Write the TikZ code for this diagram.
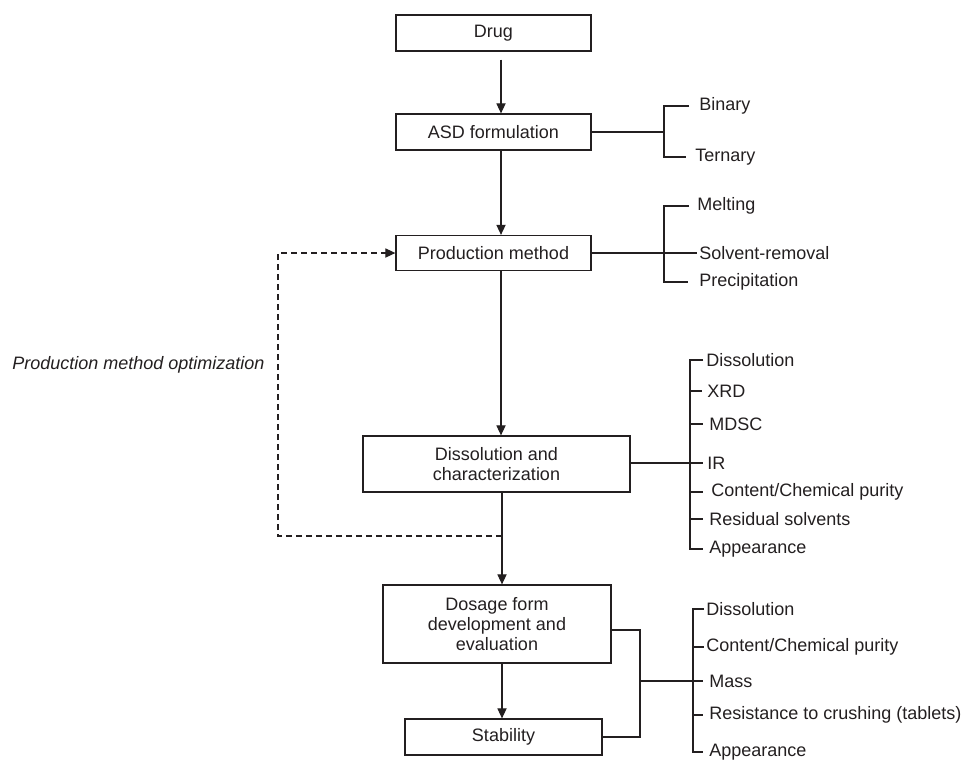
\documentclass[tikz,border=0pt]{standalone}
\usepackage{fontspec}
\setmainfont{Liberation Sans}
\usetikzlibrary{arrows.meta}
\definecolor{ink}{HTML}{231F20}
\begin{document}
\begin{tikzpicture}[x=0.5pt,y=-0.5pt,
  every node/.style={text=ink,font=\fontsize{9}{10.2}\selectfont},
  box/.style={draw=ink,line width=0.65pt,inner sep=0pt,align=center},
  item/.style={anchor=west,inner sep=0pt},
  ln/.style={draw=ink,line width=0.55pt},
  arr/.style={ln,-{Triangle[length=5pt,width=4.6pt]}},
  dsh/.style={ln,dash pattern=on 3pt off 2pt}]
\useasboundingbox (0,0) rectangle (965,762);
% main boxes
\node[box,minimum width=97.5pt,minimum height=18pt] (drug) at (493.5,33) {Drug};
\node[box,minimum width=97.5pt,minimum height=18pt] (asd) at (493.5,132) {ASD formulation};
\node[box,minimum width=97.5pt,minimum height=17.5pt] (prod) at (493.5,253) {Production method};
\node[box,minimum width=133.5pt,minimum height=28pt] (diss) at (496.5,464) {Dissolution and\\characterization};
\node[box,minimum width=114pt,minimum height=39pt] (dos) at (497,624) {Dosage form\\development and\\evaluation};
\node[box,minimum width=98.5pt,minimum height=18pt] (stab) at (503.5,737) {Stability};
% vertical axis coordinates
\coordinate (ax) at (501,0);
\coordinate (bx) at (502,0);
% arrows
\draw[arr] ([yshift=-4pt]drug.south -| ax) -- (asd.north -| ax);
\draw[arr] (asd.south -| ax) -- (prod.north -| ax);
\draw[arr] (prod.south -| ax) -- (diss.north -| ax);
\draw[arr] (diss.south -| bx) -- (dos.north -| bx);
\draw[arr] (dos.south -| bx) -- (stab.north -| bx);
% feedback loop
\coordinate (dj) at (502,536);
\coordinate (dl) at (278,536);
\draw[dsh] (dj) -- (dl) |- ([xshift=-4pt]prod.west);
\draw[ln,-{Triangle[length=5pt,width=4.6pt]}] ([xshift=-4.5pt]prod.west) -- (prod.west);
\node[item,font=\fontsize{9}{10.2}\selectfont\itshape] (opt) at (12,365) {Production method optimization};
% ASD bracket
\coordinate (ab) at (664,132);
\node[item] (bin) at (699,106) {Binary};
\node[item] (ter) at (695,157) {Ternary};
\draw[ln] (asd.east) -- (ab);
\draw[ln] ([xshift=-5pt]bin.west) -- (bin.west -| ab) -- (ter.west -| ab) -- ([xshift=-4.5pt]ter.west);
% Production bracket
\coordinate (pb) at (664,253);
\node[item] (mel) at (697,206) {Melting};
\node[item] (sol) at (699,253) {Solvent-removal};
\node[item] (pre) at (699,282) {Precipitation};
\draw[ln] (prod.east) -- ([xshift=-1pt]sol.west);
\draw[ln] ([xshift=-4pt]mel.west) -- (mel.west -| pb) -- (pre.west -| pb) -- ([xshift=-5.5pt]pre.west);
% Dissolution/characterization bracket
\coordinate (cb) at (690,463);
\node[item] (c1) at (706,360) {Dissolution};
\node[item] (c2) at (707,391) {XRD};
\node[item] (c3) at (709,424) {MDSC};
\node[item] (c4) at (707,463) {IR};
\node[item] (c5) at (711,492) {Content/Chemical purity};
\node[item] (c6) at (709,519) {Residual solvents};
\node[item] (c7) at (709,549) {Appearance};
\draw[ln] (diss.east |- c4) -- ([xshift=-2pt]c4.west);
\draw[ln] ([xshift=-1.5pt]c1.west) -- (c1.west -| cb) -- (c7.west -| cb) -- ([xshift=-3pt]c7.west);
\draw[ln] (c2.west -| cb) -- ([xshift=-2.5pt]c2.west);
\draw[ln] (c3.west -| cb) -- ([xshift=-3pt]c3.west);
\draw[ln] (c5.west -| cb) -- ([xshift=-4pt]c5.west);
\draw[ln] (c6.west -| cb) -- ([xshift=-3pt]c6.west);
% Dosage / stability bracket
\coordinate (jx) at (640,0);
\coordinate (db) at (693,0);
\node[item] (d1) at (706,609) {Dissolution};
\node[item] (d2) at (706,647) {Content/Chemical purity};
\node[item] (d3) at (709,681) {Mass};
\node[item] (d4) at (709,715) {Resistance to crushing (tablets)};
\node[item] (d5) at (709,752) {Appearance};
\draw[ln] ([yshift=-3pt]dos.east) -- ([yshift=-3pt]dos.east -| jx) -- (stab.east -| jx) -- (stab.east);
\draw[ln] (d3.west -| jx) -- ([xshift=-3pt]d3.west);
\draw[ln] ([xshift=-1pt]d1.west) -- (d1.west -| db) -- (d5.west -| db) -- ([xshift=-3pt]d5.west);
\draw[ln] (d2.west -| db) -- ([xshift=-1pt]d2.west);
\draw[ln] (d4.west -| db) -- ([xshift=-3pt]d4.west);
\end{tikzpicture}
\end{document}
